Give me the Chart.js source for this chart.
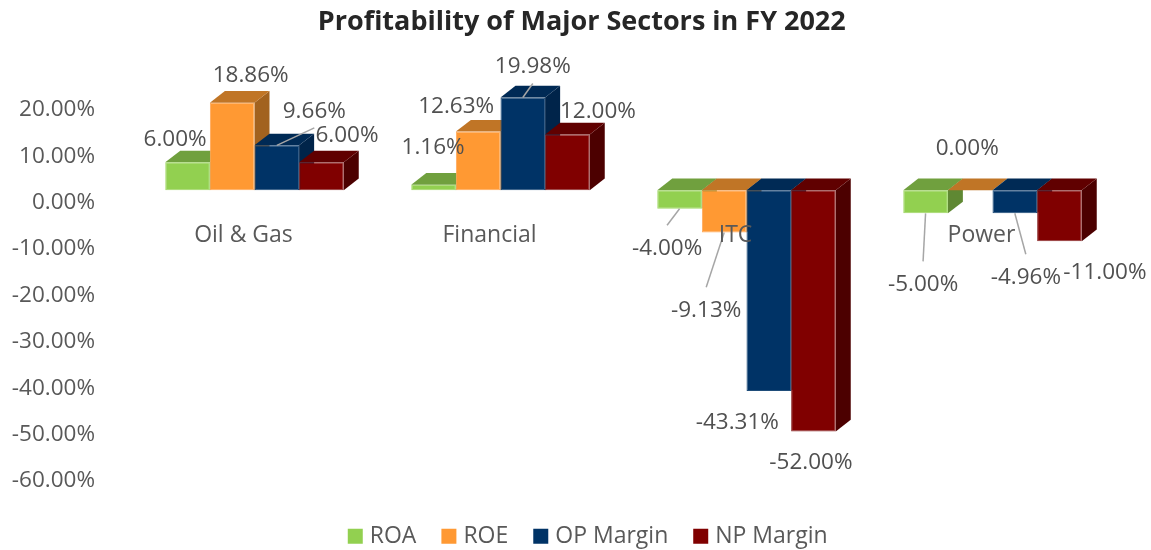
<!DOCTYPE html>
<html>
<head>
<meta charset="utf-8">
<style>html,body{margin:0;padding:0;background:#fff}canvas{display:block}</style>
<script src="https://cdn.jsdelivr.net/npm/chart.js@4"></script>
</head>
<body>
<canvas id="c" width="1151" height="550"></canvas>
<script>
const categories = ['Oil & Gas', 'Financial', 'ITC', 'Power'];
const roa = [6.00, 1.16, -4.00, -5.00];
const roe = [18.86, 12.63, -9.13, 0.00];
const opMargin = [9.66, 19.98, -43.31, -4.96];
const npMargin = [6.00, 12.00, -52.00, -11.00];
const seriesNames = ['ROA', 'ROE', 'OP Margin', 'NP Margin'];

// styling per series: front, top face, side face, edge
const frontColors = ['#92D050', '#FF9933', '#003366', '#800000'];
const topColors = ['#70A03E', '#C07526', '#002A55', '#600000'];
const sideColors = ['#5F8833', '#A2621F', '#00244A', '#4C0000'];
const edgeColors = ['#A0D866', '#FFAA5C', '#1F4D7A', '#8F3030'];

// label placement relative to the end of each bar [dx, dy], and leader flags
const labelShift = [
  [[-12.5, -24], [-0.5, -38], [-12.5, 38.5], [-2.5, 70]],
  [[18.5, -28], [-22, -25.5], [-18, 76.7], [-3, -43]],
  [[37.5, -35], [10, -31.5], [-31.5, 30.5], [11, 63]],
  [[25.5, -28], [30.5, -24], [-2.5, 30], [45.5, 30]]
];
const leaders = [
  [false, false, true, true],
  [false, false, true, false],
  [true, true, false, true],
  [false, false, false, false]
];

const FONT = '"Open Sans"';
const DEPTH_X = 15, DEPTH_Y = 11.7;

const poly = (ctx, pts, fill) => {
  ctx.beginPath();
  pts.forEach((p, i) => i ? ctx.lineTo(p[0], p[1]) : ctx.moveTo(p[0], p[1]));
  ctx.closePath();
  ctx.fillStyle = fill;
  ctx.fill();
};

const depthFaces = {
  id: 'depthFaces',
  beforeDatasetsDraw(chart) {
    const ctx = chart.ctx;
    ctx.save();
    categories.forEach((_, i) => {
      chart.data.datasets.forEach((ds, d) => {
        const el = chart.getDatasetMeta(d).data[i];
        const l = el.x - el.width / 2, r = el.x + el.width / 2;
        const up = Math.min(el.y, el.base), low = Math.max(el.y, el.base);
        poly(ctx, [[r, up], [r + DEPTH_X, up - DEPTH_Y], [r + DEPTH_X, low - DEPTH_Y], [r, low]], sideColors[d]);
        poly(ctx, [[l, up], [l + DEPTH_X, up - DEPTH_Y], [r + DEPTH_X, up - DEPTH_Y], [r, up]], topColors[d]);
      });
    });
    ctx.restore();
  }
};

const valueLabels = {
  id: 'valueLabels',
  afterDatasetsDraw(chart) {
    const ctx = chart.ctx;
    ctx.save();
    chart.data.datasets.forEach((ds, d) => {
      chart.getDatasetMeta(d).data.forEach((el, i) => {
        if (!leaders[d][i]) return;
        const lx = el.x + labelShift[d][i][0], ly = el.y + labelShift[d][i][1];
        const ey = ly + (ds.data[i] < 0 ? -22 : 17.5);
        ctx.beginPath();
        ctx.moveTo(el.x, el.y);
        ctx.lineTo(lx, ey);
        ctx.strokeStyle = '#A6A6A6';
        ctx.lineWidth = 1.5;
        ctx.stroke();
      });
    });
    ctx.font = '22.5px ' + FONT;
    ctx.fillStyle = '#505050';
    ctx.textAlign = 'center';
    ctx.textBaseline = 'middle';
    chart.data.datasets.forEach((ds, d) => {
      chart.getDatasetMeta(d).data.forEach((el, i) => {
        ctx.fillText(ds.data[i].toFixed(2) + '%', el.x + labelShift[d][i][0], el.y + labelShift[d][i][1] + 1);
      });
    });
    ctx.restore();
  }
};

const boxPlace = {
  id: 'boxPlace',
  afterLayout(chart) {
    const lg = chart.legend, tt = chart.titleBlock;
    lg.top += 26.7; lg.bottom += 26.7;
    lg.left += 32.2; lg.right += 32.2;
    tt.left += 24; tt.right += 24;
  }
};

const seriesValues = [roa, roe, opMargin, npMargin];

new Chart(document.getElementById('c'), {
  type: 'bar',
  data: {
    labels: categories,
    datasets: seriesValues.map((vals, d) => ({
      label: seriesNames[d],
      data: vals,
      backgroundColor: frontColors[d],
      borderColor: edgeColors[d],
      borderWidth: 1,
      borderSkipped: false,
      categoryPercentage: 0.7256,
      barPercentage: 1
    }))
  },
  options: {
    responsive: false,
    animation: false,
    layout: { padding: { left: 0, right: 35.5, top: 0, bottom: 19 } },
    scales: {
      x: {
        position: { y: 0 },
        grid: { display: false, drawTicks: false },
        border: { display: false },
        ticks: {
          z: 1,
          autoSkip: false,
          maxRotation: 0,
          padding: 31.5,
          labelOffset: -11,
          color: '#595959',
          font: { family: FONT, size: 23 }
        }
      },
      y: {
        min: -60,
        max: 20,
        afterFit(s) { s.width = 131.5; },
        grid: { display: false, drawTicks: false },
        border: { display: false },
        ticks: {
          stepSize: 10,
          padding: 36.5,
          labelOffset: 12.5,
          color: '#595959',
          font: { family: FONT, size: 22.5 },
          callback: v => v.toFixed(2) + '%'
        }
      }
    },
    plugins: {
      title: {
        display: true,
        text: 'Profitability of Major Sectors in FY 2022',
        color: '#262626',
        font: { family: FONT, size: 27, weight: 'bold' },
        padding: { top: 6.4, bottom: 58.6 }
      },
      legend: {
        position: 'bottom',
        labels: {
          boxWidth: 6,
          boxHeight: 6,
          padding: 29.5,
          color: '#595959',
          font: { family: FONT, size: 23 },
          generateLabels: chart => chart.data.datasets.map((ds, d) => ({
            text: ds.label,
            fillStyle: frontColors[d],
            strokeStyle: frontColors[d],
            fontColor: '#595959',
            lineWidth: 9,
            lineJoin: 'miter',
            hidden: false,
            datasetIndex: d
          }))
        }
      },
      tooltip: { enabled: false }
    }
  },
  plugins: [depthFaces, valueLabels, boxPlace]
});
</script>
</body>
</html>
